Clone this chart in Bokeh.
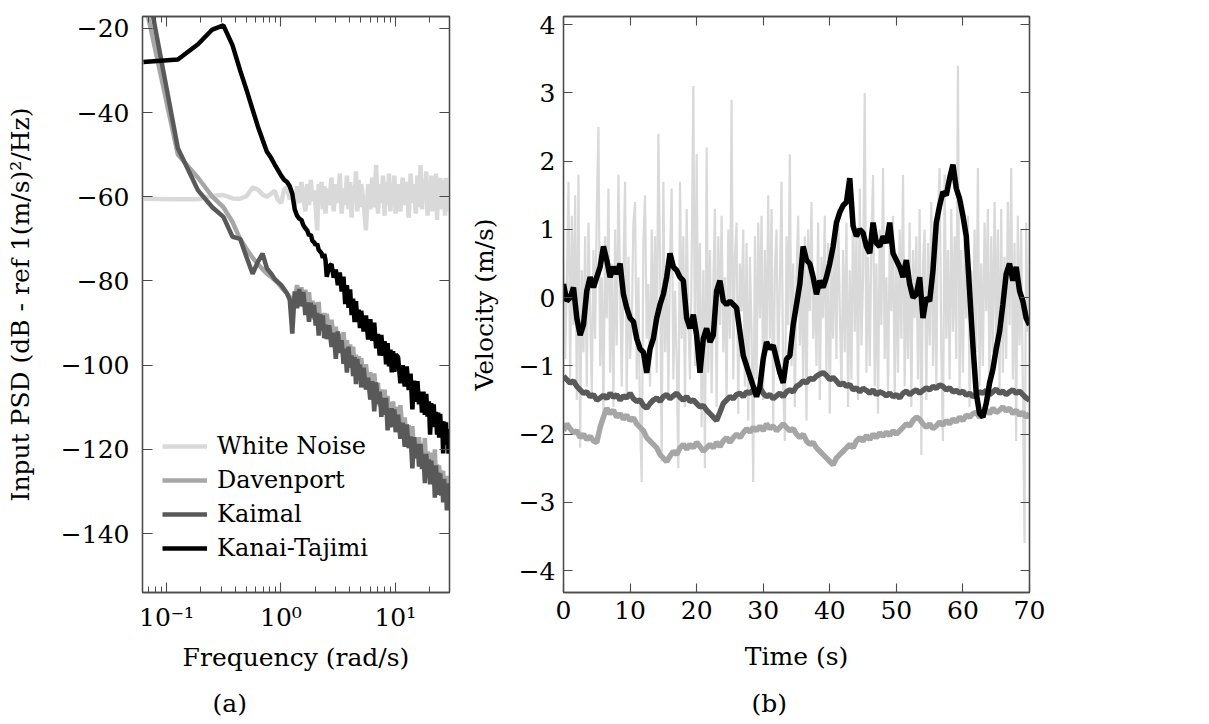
import numpy as np
from bokeh.plotting import figure
from bokeh.models import (FixedTicker, LinearAxis, LogAxis, CustomJSTickFormatter,
                          Legend, LegendItem, Title, Range1d)
from bokeh.layouts import row
from bokeh.embed import file_html
from bokeh.resources import INLINE

FONT = "DejaVu Serif"

# ---------------- (a) PSD data ----------------
k_index = list(range(1, 41)) + list(range(42, 81, 2)) + list(range(84, 161, 4)) + list(range(168, 473, 8))
freq = np.array(k_index) * 2 * np.pi / 100

psd_white = [
    -60.5, -60.6, -60.6, -59.8, -59.6, -60.4, -60.5, -59.8, -57.8, -58.3,
    -59.5, -60.0, -59.3, -58.6, -60.8, -61.5, -58.2, -57.8, -60.6, -59.2,
    -62.5, -57.5, -61.5, -56.5, -60.0, -63.5, -57.0, -62.0, -56.0, -61.0,
    -58.5, -62.5, -68.0, -57.0, -61.5, -56.5, -63.0, -57.5, -64.0, -58.0,
    -62.0, -55.5, -63.5, -57.0, -61.5, -54.5, -64.0, -58.0, -62.0, -55.0,
    -63.0, -56.5, -65.0, -57.5, -61.0, -54.0, -63.5, -56.0, -62.5, -57.0,
    -61.5, -68.0, -57.0, -63.0, -55.5, -62.5, -52.5, -64.0, -57.0, -61.5,
    -55.0, -64.5, -56.5, -62.0, -54.5, -63.5, -57.5, -61.0, -55.0, -64.0,
    -57.0, -63.5, -55.5, -62.0, -56.5, -65.0, -54.5, -61.5, -57.0, -64.0,
    -55.0, -62.5, -52.5, -63.0, -56.0, -61.0, -54.0, -64.5, -57.5, -62.0,
    -55.0, -63.5, -56.5, -61.5, -54.5, -65.5, -57.0, -62.5, -55.5, -63.0,
    -56.0, -61.5, -57.5, -64.5, -55.5, -62.0, -57.0, -63.5, -58.0,
]
psd_davenport = [
    -12.0, -50.0, -55.5, -60.0, -62.5, -66.0, -70.0, -72.5, -74.5, -76.0,
    -77.2, -78.3, -79.0, -79.8, -80.5, -81.5, -82.3, -83.0, -83.8, -84.5,
    -84.3, -81.0, -84.4, -81.5, -86.1, -82.1, -85.6, -82.7, -87.7, -84.7,
    -89.2, -85.1, -89.1, -85.0, -90.4, -87.8, -91.7, -87.6, -90.9, -87.8,
    -93.0, -89.2, -93.8, -90.9, -96.0, -92.6, -96.6, -92.2, -96.6, -94.1,
    -99.1, -95.1, -99.2, -95.6, -100.6, -97.5, -102.0, -97.9, -101.8, -98.3,
    -103.6, -99.8, -105.0, -101.7, -106.8, -102.0, -107.1, -104.2, -109.8, -105.8,
    -109.8, -105.8, -110.8, -107.3, -112.8, -108.8, -112.7, -108.6, -114.0, -109.9,
    -115.3, -109.5, -116.2, -112.4, -118.6, -114.2, -118.4, -114.5, -120.6, -117.1,
    -121.2, -117.1, -122.7, -118.7, -122.6, -117.3, -125.1, -120.5, -124.9, -120.8,
    -126.2, -122.1, -126.0, -120.0, -127.8, -123.6, -128.0, -123.8, -129.2, -125.0,
    -128.8, -125.1, -131.0, -126.3, -130.6, -126.3, -131.6, -127.4, -131.2,
]
psd_kaimal = [
    -5.0, -48.5, -58.5, -62.5, -64.8, -69.5, -70.0, -74.5, -78.3, -75.5,
    -73.5, -77.0, -78.2, -79.5, -80.3, -81.0, -82.0, -83.0, -84.5, -92.5,
    -82.5, -86.5, -81.9, -86.0, -82.6, -88.1, -85.1, -89.7, -85.2, -88.7,
    -85.7, -90.6, -87.6, -93.0, -87.9, -91.8, -88.2, -93.6, -90.4, -93.8,
    -90.5, -95.7, -92.3, -98.5, -92.0, -97.1, -94.1, -99.7, -96.1, -101.8,
    -95.6, -100.6, -97.7, -102.6, -98.1, -104.5, -98.5, -102.9, -99.8, -105.3,
    -100.6, -105.8, -103.0, -108.2, -103.8, -111.0, -104.1, -109.2, -106.3, -112.3,
    -107.8, -111.8, -107.8, -115.5, -110.3, -114.8, -110.2, -114.6, -110.5, -115.9,
    -111.8, -117.5, -113.7, -119.4, -114.1, -119.7, -116.9, -124.5, -117.1, -122.1,
    -118.7, -124.1, -118.7, -124.7, -121.1, -128.0, -121.1, -126.0, -122.4, -128.3,
    -122.7, -128.1, -124.5, -131.5, -123.8, -129.1, -125.5, -130.8, -125.7, -131.0,
    -127.3, -132.6, -127.0, -131.8, -128.1, -134.5, -128.1, -133.9, -129.2,
]
psd_kanai = [
    -28.0, -27.4, -23.8, -20.3, -19.3, -24.0, -30.0, -34.8, -39.3, -43.3,
    -46.5, -49.3, -50.7, -52.3, -53.7, -55.0, -56.0, -56.5, -57.5, -59.3,
    -63.0, -64.5, -65.2, -65.5, -66.8, -67.5, -68.0, -69.2, -69.0, -70.5,
    -70.8, -71.5, -71.2, -72.6, -73.0, -73.4, -74.5, -73.6, -75.0, -79.0,
    -76.5, -76.0, -79.2, -77.3, -81.0, -78.0, -82.5, -79.0, -85.5, -81.0,
    -86.4, -82.0, -88.1, -84.2, -89.8, -84.8, -89.8, -86.8, -91.2, -87.1,
    -92.0, -88.2, -93.9, -89.1, -94.2, -89.9, -96.0, -92.6, -97.7, -92.8,
    -97.8, -94.3, -99.8, -94.8, -100.3, -96.3, -101.7, -96.7, -101.6, -97.5,
    -98.1, -104.3, -100.0, -105.1, -100.3, -105.9, -102.0, -110.5, -103.7, -108.7,
    -103.8, -109.3, -106.3, -111.3, -106.3, -111.8, -106.8, -112.2, -108.6, -116.5,
    -109.0, -114.4, -109.3, -114.7, -111.1, -116.5, -111.3, -117.2, -111.6, -116.9,
    -113.3, -121.0, -113.4, -118.8, -113.6, -118.9, -115.2, -121.0, -115.3,
]
psd_yticks = [-140, -120, -100, -80, -60, -40, -20]
psd_xticks = [0.1, 1, 10]
psd_xminor = [0.07, 0.08, 0.09, 0.2, 0.3, 0.4, 0.5, 0.6, 0.7, 0.8, 0.9,
              2, 3, 4, 5, 6, 7, 8, 9, 20, 30]

# ---------------- (b) time series data ----------------
t_fine = np.arange(0, 70.001, 0.25)
t_coarse = np.arange(0, 70.001, 0.5)

vel_white = [
    0.6, -0.9, 0.2, 1.7, -1.2, 1.2, -0.4, 1.5, -1.5, 1.8, -2.2, 0.4,
    -0.8, 0.9, -1.3, 1.1, -0.2, -1.4, 0.7, -0.6, 1.3, 2.5, -1.0, 0.3,
    -1.7, 0.9, -0.3, 1.6, -1.1, 0.5, -1.6, 1.0, -0.7, 1.8, 0.2, -1.3,
    0.4, 1.7, -1.5, 0.6, -0.9, -0.4, 1.1, 1.4, -1.2, 0.3, -1.8, -2.7,
    0.8, 1.5, -0.6, 0.2, -1.3, 1.0, -0.5, 0.9, -1.1, 2.4, 0.5, -2.4,
    1.7, -0.8, 0.4, -1.4, 0.6, 1.6, -1.2, 0.1, -0.9, -2.5, 1.7, -0.6,
    0.9, -1.6, 1.3, -0.3, -1.2, 0.5, 3.1, -1.0, 2.1, -0.7, 0.8, -1.9,
    0.4, -2.5, 2.2, -1.1, 0.7, -1.4, 0.2, 1.3, -1.6, 0.9, -0.4, 1.2,
    -0.8, 0.3, -1.5, 1.0, -0.6, 2.9, -1.2, 0.6, 1.1, -1.7, 0.5, -0.2,
    1.0, -1.3, 0.8, -1.8, 0.6, -0.5, -2.7, 0.9, -1.2, 1.1, -0.3, 1.2,
    -1.5, 0.7, -0.8, 1.5, -0.6, 1.3, -1.9, 0.4, 1.0, -1.1, 0.2, 1.7,
    -1.3, -2.1, 0.9, -0.4, 2.1, -1.0, 0.5, -1.6, 0.3, 1.2, -0.7, 0.4,
    -1.2, 0.9, -1.8, 1.0, -0.2, 1.4, -0.6, 0.3, -1.0, 1.1, -1.5, 0.6,
    -0.3, 1.2, -1.1, 0.8, -1.7, 0.5, -0.6, 1.0, -0.9, 1.3, -0.2, -1.3,
    0.7, -0.8, 1.1, -1.6, 0.4, -1.2, 1.4, -0.5, 0.9, -1.5, 1.6, -0.7,
    0.3, 3.0, -1.1, 0.6, -1.0, 0.8, 1.8, -1.3, 0.5, -1.7, 1.0, -0.4,
    1.9, -0.9, 0.3, -1.4, 0.8, -0.2, 1.2, -1.5, 0.6, -1.1, 1.0, -0.6,
    1.8, -1.3, 0.4, -0.9, 1.1, -1.6, 0.7, -0.3, 0.9, -1.2, 1.3, -2.3,
    0.5, 1.0, -1.5, 0.8, -0.7, 1.4, -1.0, 0.6, -1.3, 1.2, 1.9, -0.8,
    -2.1, 1.8, -0.6, 0.7, -1.2, 1.3, -0.5, 0.9, -0.9, 3.4, -1.4, 0.7,
    -1.1, 0.8, -0.3, 1.2, -1.6, 0.4, -0.7, 1.0, -0.8, 1.9, -1.3, 0.5,
    -1.0, 1.1, -0.2, 1.3, -1.5, 0.9, -0.8, 1.4, -0.6, 1.0, -1.4, 1.3,
    -1.1, 0.6, -0.9, 1.4, -0.4, 1.9, -1.2, 0.8, -2.1, 1.2, -0.7, 1.0,
    -1.3, -3.6, 1.1, -0.5, 0.4,
]
vel_davenport = [
    -1.95, -1.85, -1.92, -1.98, -1.95, -2.05, -2.0, -2.08, -2.03, -2.1,
    -2.12, -1.9, -1.75, -1.62, -1.7, -1.65, -1.75, -1.7, -1.78, -1.72,
    -1.8, -1.76, -1.85, -1.9, -1.95, -2.05, -2.1, -2.15, -2.2, -2.3,
    -2.35, -2.4, -2.32, -2.25, -2.3, -2.2, -2.15, -2.22, -2.15, -2.2,
    -2.12, -2.18, -2.25, -2.2, -2.15, -2.2, -2.12, -2.18, -2.1, -2.05,
    -2.12, -2.05, -2.0, -2.05, -1.98, -1.92, -1.97, -1.9, -1.95, -1.88,
    -1.95, -1.85, -1.92, -1.88, -1.95, -1.9, -1.85, -1.9, -1.95, -1.92,
    -2.0, -2.05, -2.0, -2.1, -2.15, -2.12, -2.2, -2.25, -2.3, -2.35,
    -2.4, -2.45, -2.35, -2.3, -2.25, -2.2, -2.15, -2.2, -2.1, -2.05,
    -2.1, -2.02, -2.08, -2.0, -2.05, -1.98, -2.03, -1.97, -2.02, -1.95,
    -2.0, -1.95, -1.9, -1.85, -1.88, -1.8, -1.75, -1.78, -1.85, -1.9,
    -1.85, -1.92, -1.88, -1.82, -1.87, -1.8, -1.85, -1.78, -1.82, -1.75,
    -1.8, -1.72, -1.75, -1.7, -1.68, -1.75, -1.7, -1.65, -1.7, -1.62,
    -1.68, -1.65, -1.6, -1.66, -1.62, -1.7, -1.65, -1.72, -1.68, -1.75,
    -1.7,
]
vel_kaimal = [
    -1.15, -1.2, -1.25, -1.22, -1.3, -1.35, -1.4, -1.38, -1.45, -1.42,
    -1.5, -1.47, -1.43, -1.48, -1.4, -1.46, -1.42, -1.5, -1.44, -1.47,
    -1.4, -1.48, -1.52, -1.5, -1.58, -1.62, -1.55, -1.5, -1.47, -1.52,
    -1.45, -1.42, -1.48, -1.44, -1.4, -1.46, -1.5, -1.45, -1.52, -1.5,
    -1.55, -1.6, -1.58, -1.65, -1.7, -1.75, -1.8, -1.68, -1.55, -1.5,
    -1.45, -1.48, -1.42, -1.4, -1.45, -1.38, -1.4, -1.35, -1.38, -1.32,
    -1.4, -1.45, -1.42, -1.48, -1.44, -1.4, -1.45, -1.38, -1.35, -1.38,
    -1.3, -1.27, -1.22, -1.25, -1.18, -1.2, -1.15, -1.12, -1.1, -1.14,
    -1.2, -1.17, -1.22, -1.28, -1.25, -1.3, -1.27, -1.35, -1.32, -1.38,
    -1.33, -1.36, -1.4, -1.35, -1.42, -1.38, -1.4, -1.44, -1.4, -1.45,
    -1.42, -1.47, -1.4, -1.37, -1.42, -1.38, -1.35, -1.4, -1.36, -1.32,
    -1.35, -1.3, -1.33, -1.28, -1.3, -1.35, -1.32, -1.38, -1.36, -1.4,
    -1.37, -1.43, -1.4, -1.45, -1.42, -1.38, -1.4, -1.36, -1.42, -1.38,
    -1.34, -1.4, -1.37, -1.42, -1.38, -1.35, -1.4, -1.37, -1.42, -1.47,
    -1.5,
]
vel_kanai = [
    0.2, -0.05, 0.0, 0.15, -0.3, -0.55, -0.4, 0.1, 0.3, 0.15,
    0.3, 0.45, 0.75, 0.55, 0.3, 0.45, 0.35, 0.5, 0.05, -0.15,
    -0.3, -0.35, -0.6, -0.75, -0.8, -1.1, -0.75, -0.6, -0.3, -0.1,
    0.05, 0.3, 0.65, 0.45, 0.4, 0.3, 0.25, -0.3, -0.45, -0.25,
    -0.55, -1.1, -0.6, -0.45, -0.65, -0.55, 0.1, 0.25, -0.05, -0.1,
    -0.05, -0.1, -0.15, -0.5, -0.85, -1.0, -1.15, -1.3, -1.45, -1.3,
    -0.9, -0.65, -0.75, -0.7, -0.9, -1.1, -1.25, -0.9, -0.85, -0.4,
    -0.1, 0.2, 0.75, 0.55, 0.5, 0.3, 0.05, 0.25, 0.15, 0.3,
    0.5, 0.75, 1.1, 1.25, 1.35, 1.4, 1.75, 1.05, 0.9, 1.0,
    0.95, 0.75, 0.65, 1.1, 0.8, 0.75, 0.9, 0.8, 1.1, 0.65,
    0.55, 0.45, 0.3, 0.55, 0.2, 0.0, 0.05, 0.3, -0.3, 0.0,
    -0.05, 0.4, 1.1, 1.35, 1.55, 1.5, 1.75, 1.95, 1.6, 1.45,
    1.2, 0.9, 0.1, -0.7, -1.4, -1.7, -1.75, -1.55, -1.25, -1.05,
    -0.75, -0.5, -0.1, 0.35, 0.5, 0.25, 0.45, 0.1, -0.05, -0.3,
    -0.4,
]
vel_yticks = [-4, -3, -2, -1, 0, 1, 2, 3, 4]
vel_xticks = [0, 10, 20, 30, 40, 50, 60, 70]

for arr in (psd_white, psd_davenport, psd_kaimal, psd_kanai):
    assert len(arr) == len(freq), len(arr)
assert len(vel_white) == len(t_fine), len(vel_white)
for arr in (vel_davenport, vel_kaimal, vel_kanai):
    assert len(arr) == len(t_coarse), len(arr)

names = ["White Noise", "Davenport", "Kaimal", "Kanai-Tajimi"]
colors = ["#d9d9d9", "#a6a6a6", "#595959", "#000000"]

AXC = "#4a4a4a"
minus_fmt = "return (tick < 0 ? '\u2212' : '') + Math.abs(tick).toString();"
log_fmt = ("const m = {'0.1': '10\u207b\u00b9', '1': '10\u2070', '10': '10\u00b9'};"
           "return m[tick.toString()] || '';")
blank_fmt = "return '';"


def style_axis(ax, major_in=9, minor_in=0, labels=True, standoff=8):
    ax.axis_line_color = AXC
    ax.axis_line_width = 1.3
    ax.major_tick_line_color = AXC
    ax.major_tick_line_width = 1.1
    ax.major_tick_in = major_in
    ax.major_tick_out = 0
    if minor_in:
        ax.minor_tick_line_color = AXC
        ax.minor_tick_line_width = 1.0
        ax.minor_tick_in = minor_in
        ax.minor_tick_out = 0
    else:
        ax.minor_tick_line_color = None
    ax.major_label_text_font = FONT
    ax.major_label_text_color = "#000000"
    ax.axis_label_text_font = FONT
    ax.axis_label_text_font_style = "normal"
    ax.axis_label_text_color = "#000000"
    ax.axis_label_text_font_size = "25px"
    if labels:
        ax.major_label_text_font_size = "25px"
        ax.major_label_standoff = standoff
    else:
        ax.major_label_text_font_size = "0px"
        ax.major_label_standoff = 0
        ax.formatter = CustomJSTickFormatter(code=blank_fmt)


# ---------------- figure (a) ----------------
pa = figure(x_axis_type="log", title=None,
            x_range=Range1d(0.0617, 29.7), y_range=Range1d(-154, -17.2),
            frame_width=307, frame_height=576,
            min_border_left=142, min_border_right=17, min_border_top=11, min_border_bottom=126,
            output_backend="svg", toolbar_location=None)
pa.grid.visible = False
pa.outline_line_color = AXC
pa.outline_line_width = 1.3

ax = pa.xaxis[0]
ax.ticker = FixedTicker(ticks=psd_xticks, minor_ticks=psd_xminor)
ax.formatter = CustomJSTickFormatter(code=log_fmt)
ax.axis_label = "Frequency (rad/s)"
style_axis(ax, major_in=10, minor_in=6, standoff=10)
ax.axis_label_standoff = 8

ay = pa.yaxis[0]
ay.ticker = FixedTicker(ticks=psd_yticks)
ay.formatter = CustomJSTickFormatter(code=minus_fmt)
ay.axis_label = "Input PSD (dB - ref 1(m/s)\u00b2/Hz)"
style_axis(ay, major_in=10, standoff=13)
ay.axis_label_standoff = 23

top_a = LogAxis(ticker=FixedTicker(ticks=psd_xticks, minor_ticks=psd_xminor))
style_axis(top_a, major_in=10, minor_in=6, labels=False)
pa.add_layout(top_a, "above")
right_a = LinearAxis(ticker=FixedTicker(ticks=psd_yticks))
style_axis(right_a, major_in=10, labels=False)
pa.add_layout(right_a, "right")

items = []
for name, col, vals in zip(names, colors, [psd_white, psd_davenport, psd_kaimal, psd_kanai]):
    r = pa.line(freq, vals, line_color=col, line_width=4.5, line_join="bevel")
    items.append(LegendItem(label=name, renderers=[r]))

leg = Legend(items=items, location=(14, 24), orientation="vertical",
             label_text_font=FONT, label_text_font_size="24px", label_text_color="#000000",
             glyph_width=45, glyph_height=28, label_height=28, spacing=6,
             padding=6, margin=0, label_standoff=10,
             background_fill_alpha=0, border_line_alpha=0)
pa.add_layout(leg, "center")

cap_a = Title(text="(a)", align="left", offset=70, standoff=25,
              text_font=FONT, text_font_size="25px", text_font_style="normal",
              text_color="#000000")
pa.add_layout(cap_a, "below")

# ---------------- figure (b) ----------------
pb = figure(title=None, x_range=Range1d(0, 70), y_range=Range1d(-4.32, 4.12),
            frame_width=466, frame_height=576,
            min_border_left=92, min_border_right=175, min_border_top=16, min_border_bottom=116,
            output_backend="svg", toolbar_location=None)
pb.grid.visible = False
pb.outline_line_color = AXC
pb.outline_line_width = 1.3

bx = pb.xaxis[0]
bx.ticker = FixedTicker(ticks=vel_xticks)
bx.axis_label = "Time (s)"
style_axis(bx, major_in=9, standoff=8)
bx.axis_label_standoff = 20

by = pb.yaxis[0]
by.ticker = FixedTicker(ticks=vel_yticks)
by.formatter = CustomJSTickFormatter(code=minus_fmt)
by.axis_label = "Velocity (m/s)"
style_axis(by, major_in=9, standoff=8)
by.axis_label_standoff = 17

top_b = LinearAxis(ticker=FixedTicker(ticks=vel_xticks))
style_axis(top_b, major_in=9, labels=False)
pb.add_layout(top_b, "above")
right_b = LinearAxis(ticker=FixedTicker(ticks=vel_yticks))
style_axis(right_b, major_in=9, labels=False)
pb.add_layout(right_b, "right")

pb.line(t_fine, vel_white, line_color=colors[0], line_width=2.2, line_join="bevel")
pb.line(t_coarse, vel_davenport, line_color=colors[1], line_width=5.5, line_join="bevel")
pb.line(t_coarse, vel_kaimal, line_color=colors[2], line_width=5.5, line_join="bevel")
pb.line(t_coarse, vel_kanai, line_color=colors[3], line_width=5.5, line_join="bevel")

cap_b = Title(text="(b)", align="left", offset=188, standoff=27,
              text_font=FONT, text_font_size="25px", text_font_style="normal",
              text_color="#000000")
pb.add_layout(cap_b, "below")

layout = row(pa, pb)
with open("out.html", "w", encoding="utf-8") as f:
    f.write(file_html(layout, INLINE))
